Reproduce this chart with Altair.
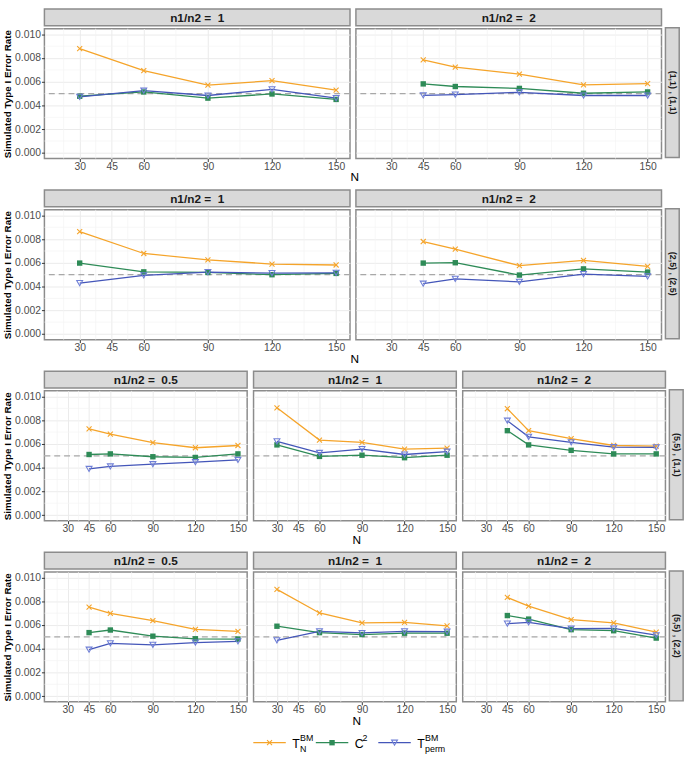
import altair as alt
import pandas as pd

FONT = "Liberation Sans"

# ---------------- data ----------------
SERIES = ["T_N", "C2", "T_perm"]
LEG_MAIN = ["T", "C", "T"]
LEG_SUP = ["BM", "2", "BM"]
LEG_SUB = ["N", "", "perm"]
COLORS = ["#F5A42A", "#2E8B57", "#4456B9"]
N_FULL = [30, 60, 90, 120, 150]
N_SHORT = [45, 60, 90, 120, 150]
X_TICKS = [30, 45, 60, 90, 120, 150]
X_MINOR = [22.5, 37.5, 52.5, 75, 105, 135]
Y_TICKS = [0.000, 0.002, 0.004, 0.006, 0.008, 0.010]
Y_MINOR = [0.001, 0.003, 0.005, 0.007, 0.009]
REF_LEVEL = [0.005]
ROW_LABELS = ["(1,1) , (1,1)", "(2,5) , (2,5)", "(5,5) , (1,1)", "(5,5) , (2,2)"]
ROW_RATIOS = [["1", "2"], ["1", "2"], ["0.5", "1", "2"], ["0.5", "1", "2"]]

# row 1: (1,1),(1,1)
r1_1_TN = [0.00880, 0.00694, 0.00571, 0.00609, 0.00530]
r1_1_C2 = [0.00478, 0.00514, 0.00462, 0.00497, 0.00451]
r1_1_TP = [0.00473, 0.00525, 0.00484, 0.00536, 0.00462]
r1_2_TN = [0.00784, 0.00724, 0.00664, 0.00574, 0.00585]
r1_2_C2 = [0.00582, 0.00560, 0.00544, 0.00503, 0.00514]
r1_2_TP = [0.00486, 0.00492, 0.00511, 0.00484, 0.00484]
# row 2: (2,5),(2,5)
r2_1_TN = [0.00864, 0.00679, 0.00625, 0.00590, 0.00582]
r2_1_C2 = [0.00598, 0.00524, 0.00519, 0.00500, 0.00511]
r2_1_TP = [0.00429, 0.00495, 0.00522, 0.00514, 0.00516]
r2_2_TN = [0.00780, 0.00715, 0.00576, 0.00620, 0.00571]
r2_2_C2 = [0.00598, 0.00601, 0.00497, 0.00549, 0.00522]
r2_2_TP = [0.00424, 0.00465, 0.00440, 0.00505, 0.00486]
# row 3: (5,5),(1,1)
r3_05_TN = [0.00728, 0.00682, 0.00611, 0.00568, 0.00587]
r3_05_C2 = [0.00511, 0.00516, 0.00492, 0.00486, 0.00516]
r3_05_TP = [0.00389, 0.00410, 0.00429, 0.00446, 0.00465]
r3_1_TN = [0.00905, 0.00633, 0.00614, 0.00557, 0.00565]
r3_1_C2 = [0.00592, 0.00495, 0.00505, 0.00484, 0.00505]
r3_1_TP = [0.00622, 0.00524, 0.00557, 0.00511, 0.00535]
r3_2_TN = [0.00897, 0.00712, 0.00644, 0.00587, 0.00582]
r3_2_C2 = [0.00712, 0.00592, 0.00546, 0.00516, 0.00516]
r3_2_TP = [0.00796, 0.00660, 0.00614, 0.00573, 0.00571]
# row 4: (5,5),(2,2)
r4_05_TN = [0.00751, 0.00699, 0.00637, 0.00563, 0.00547]
r4_05_C2 = [0.00536, 0.00558, 0.00506, 0.00484, 0.00482]
r4_05_TP = [0.00392, 0.00446, 0.00433, 0.00452, 0.00463]
r4_1_TN = [0.00901, 0.00702, 0.00618, 0.00623, 0.00593]
r4_1_C2 = [0.00590, 0.00536, 0.00520, 0.00531, 0.00531]
r4_1_TP = [0.00471, 0.00547, 0.00533, 0.00547, 0.00544]
r4_2_TN = [0.00833, 0.00759, 0.00645, 0.00618, 0.00541]
r4_2_C2 = [0.00680, 0.00650, 0.00561, 0.00552, 0.00490]
r4_2_TP = [0.00612, 0.00623, 0.00569, 0.00571, 0.00514]

VALUES = {
    (0, "1"): (r1_1_TN, r1_1_C2, r1_1_TP),
    (0, "2"): (r1_2_TN, r1_2_C2, r1_2_TP),
    (1, "1"): (r2_1_TN, r2_1_C2, r2_1_TP),
    (1, "2"): (r2_2_TN, r2_2_C2, r2_2_TP),
    (2, "0.5"): (r3_05_TN, r3_05_C2, r3_05_TP),
    (2, "1"): (r3_1_TN, r3_1_C2, r3_1_TP),
    (2, "2"): (r3_2_TN, r3_2_C2, r3_2_TP),
    (3, "0.5"): (r4_05_TN, r4_05_C2, r4_05_TP),
    (3, "1"): (r4_1_TN, r4_1_C2, r4_1_TP),
    (3, "2"): (r4_2_TN, r4_2_C2, r4_2_TP),
}

# ---------------- styling ----------------
PLOT_H = 132
STRIP_H = 17
W2 = 310.5
W3 = 206
GAP = 2.5
BORDER = "#8C8C8C"
XSCALE = alt.Scale(domain=[13.5, 156.5], nice=False, zero=False)
YSCALE = alt.Scale(domain=[-0.00048, 0.01048], nice=False, zero=False)
COLOR_SCALE = alt.Scale(domain=SERIES, range=COLORS)
X_PATH = "M-1,-1L1,1M-1,1L1,-1"
TRI_COLOR = "#6F7FD6"
LEG_SHIFT = -17


def strip(label, width):
    return alt.Chart(pd.DataFrame({"label": [label]})).mark_text(
        font=FONT, fontSize=12, fontWeight="bold", color="#1A1A1A", baseline="middle"
    ).encode(
        text="label:N", x=alt.value(width / 2), y=alt.value(STRIP_H / 2 + 0.5)
    ).properties(
        width=width, height=STRIP_H,
        view=alt.ViewBackground(fill="#D9D9D9", stroke=BORDER, strokeWidth=1.5),
    )


def row_strip(label):
    blank = alt.Chart(pd.DataFrame({"label": [label]})).mark_rule(opacity=0).encode(
        x=alt.value(7), y=alt.value(3), y2=alt.value(STRIP_H - 3)
    ).properties(width=14, height=STRIP_H, view=alt.ViewBackground(stroke="transparent"))
    body = alt.Chart(pd.DataFrame({"label": [label]})).mark_text(
        font=FONT, fontSize=9, fontWeight="bold", color="#1A1A1A", angle=90,
        baseline="middle", align="center",
    ).encode(
        text="label:N", x=alt.value(7.5), y=alt.value(PLOT_H / 2)
    ).properties(
        width=14, height=PLOT_H,
        view=alt.ViewBackground(fill="#D9D9D9", stroke=BORDER, strokeWidth=1.5),
    )
    return alt.vconcat(blank, body, spacing=0)


def make_axes(first):
    xaxis = alt.Axis(
        values=X_TICKS, grid=True, gridColor="#EBEBEB", gridWidth=1,
        domain=False, ticks=True, tickSize=3, tickColor="#333333",
        labelFont=FONT, labelFontSize=10.5, labelColor="#4D4D4D", labelPadding=0,
        title="",
    )
    if first:
        yaxis = alt.Axis(
            values=Y_TICKS, format=".3f", grid=True, gridColor="#EBEBEB", gridWidth=1,
            domain=False, ticks=True, tickSize=3, tickColor="#333333",
            labelFont=FONT, labelFontSize=10.5, labelColor="#4D4D4D", labelPadding=1,
            title="Simulated Type I Error Rate", titleFont=FONT, titleFontSize=10,
            titleFontWeight="bold", titleColor="#000000", titlePadding=2.5,
        )
    else:
        yaxis = alt.Axis(
            values=Y_TICKS, grid=True, gridColor="#EBEBEB", gridWidth=1,
            domain=False, ticks=False, labels=False, title="",
        )
    return xaxis, yaxis


def marker_layers(base, X, Y, x_offset=0):
    pts_tn = base.transform_filter(alt.datum.series == SERIES[0]).mark_point(
        shape=X_PATH, filled=False, size=26, strokeWidth=1.1, color=COLORS[0],
        opacity=1, xOffset=x_offset,
    ).encode(x=X, y=Y)
    pts_c2 = base.transform_filter(alt.datum.series == SERIES[1]).mark_point(
        shape="square", filled=True, size=30, color=COLORS[1], opacity=1, xOffset=x_offset,
    ).encode(x=X, y=Y)
    pts_tp = base.transform_filter(alt.datum.series == SERIES[2]).mark_point(
        shape="triangle-down", filled=False, size=36, strokeWidth=1.1, color=TRI_COLOR,
        opacity=1, xOffset=x_offset,
    ).encode(x=X, y=Y)
    return [pts_tn, pts_c2, pts_tp]


def panel(row_i, ratio, width, first):
    Ns = N_FULL if ratio == "1" else N_SHORT
    tn, c2, tp = VALUES[(row_i, ratio)]
    df = pd.DataFrame({
        "N": Ns * 3,
        "value": list(tn) + list(c2) + list(tp),
        "series": [s for s in SERIES for _ in Ns],
    })
    xaxis, yaxis = make_axes(first)
    X = alt.X("N:Q", scale=XSCALE, axis=xaxis)
    Y = alt.Y("value:Q", scale=YSCALE, axis=yaxis)

    base = alt.Chart(df)
    lines = base.mark_line(strokeWidth=1.3).encode(
        x=X, y=Y, color=alt.Color("series:N", scale=COLOR_SCALE, legend=None),
    )
    minor_x = alt.Chart(pd.DataFrame({"N": X_MINOR})).mark_rule(
        color="#F4F4F4", strokeWidth=0.7
    ).encode(x=X)
    minor_y = alt.Chart(pd.DataFrame({"value": Y_MINOR})).mark_rule(
        color="#F4F4F4", strokeWidth=0.7
    ).encode(y=Y)
    ref = alt.Chart(pd.DataFrame({"value": REF_LEVEL})).mark_rule(
        color="#A8A8A8", strokeWidth=1.3, strokeDash=[6, 4]
    ).encode(y=Y)

    layers = [minor_x, minor_y, ref, lines] + marker_layers(base, X, Y)
    plot = alt.layer(*layers).properties(width=width, height=PLOT_H)
    label = "n1/n2 = \u00a0" + ratio
    return alt.vconcat(strip(label, width), plot, spacing=0)


def legend_chart():
    ldf = pd.DataFrame({"series": SERIES, "main": LEG_MAIN, "sup": LEG_SUP, "sub": LEG_SUB})
    LX = alt.X("series:N", scale=alt.Scale(type="band", domain=SERIES, paddingInner=0,
                                            paddingOuter=0), axis=None, bandPosition=0)
    LY = alt.value(10.5)
    base = alt.Chart(ldf)
    line = base.mark_point(shape="M-1,0H1", size=1089, filled=False, strokeWidth=1.3,
                           opacity=1, xOffset=16.5 + LEG_SHIFT).encode(
        x=LX, y=LY, color=alt.Color("series:N", scale=COLOR_SCALE, legend=None))
    marks = marker_layers(base, LX, LY, x_offset=16.5 + LEG_SHIFT)
    main = base.mark_text(font=FONT, fontSize=12.5, align="left", baseline="alphabetic",
                          dx=39.5 + LEG_SHIFT, color="#000000").encode(
        x=LX, y=alt.value(16), text="main:N")
    sup = base.mark_text(font=FONT, fontSize=9, align="left", baseline="alphabetic",
                         dx=47.5 + LEG_SHIFT, color="#000000").encode(
        x=LX, y=alt.value(8.5), text="sup:N")
    sub = base.mark_text(font=FONT, fontSize=9, align="left", baseline="alphabetic",
                         dx=47.5 + LEG_SHIFT, color="#000000").encode(
        x=LX, y=alt.value(19.5), text="sub:N")
    return alt.layer(line, *marks, main, sup, sub).properties(
        width=190.5, height=22, view=alt.ViewBackground(stroke="transparent"))


N_TITLE = alt.TitleParams(
    "N", orient="bottom", anchor="middle", font=FONT, fontSize=12,
    fontWeight="normal", color="#000000", offset=0, dx=23,
)

rows = []
for ri in range(4):
    ratios = ROW_RATIOS[ri]
    w = W2 if len(ratios) == 2 else W3
    panels = [panel(ri, r, w, first=(j == 0)) for j, r in enumerate(ratios)]
    body = alt.hconcat(*panels, spacing=GAP, title=N_TITLE)
    rows.append(alt.hconcat(body, row_strip(ROW_LABELS[ri]), spacing=1))

grid = alt.vconcat(*rows, spacing=5)
chart = alt.vconcat(grid, legend_chart(), spacing=4, center=True).properties(
    padding={"left": 1, "top": 2, "right": 1, "bottom": 1}
).configure_view(
    stroke=BORDER, strokeWidth=1.5
)

chart.save("out.html", embed_options={"renderer": "svg", "actions": False})
